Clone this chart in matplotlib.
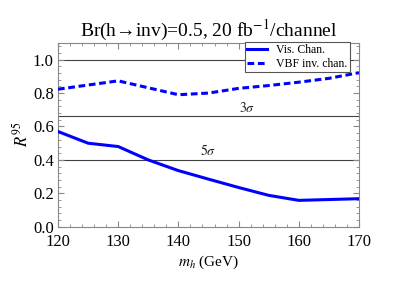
import matplotlib
matplotlib.use("Agg")
import matplotlib.pyplot as plt
from matplotlib.ticker import MultipleLocator

plt.rcParams['font.family'] = ['Liberation Serif', 'DejaVu Serif']
plt.rcParams['mathtext.fontset'] = 'stix'

mh_vis = [120, 125, 130, 135, 140, 145, 150, 155, 160, 170]
r_vis = [0.57, 0.50, 0.48, 0.40, 0.336, 0.285, 0.235, 0.188, 0.158, 0.168]
mh_vbf = [120, 130, 140, 145, 150, 155, 160, 165, 170]
r_vbf = [0.823, 0.873, 0.79, 0.80, 0.828, 0.845, 0.865, 0.888, 0.922]
sig_levels = [1.0, 0.66, 0.40]
sig_labels = ['', r'$3\sigma$', r'$5\sigma$']
sig_label_x = [None, 151.5, 145.0]

fig = plt.figure(figsize=(4.17, 2.98), dpi=100)
ax = fig.add_axes([0.139, 0.239, 0.722, 0.617])

for lvl, lab, lx in zip(sig_levels, sig_labels, sig_label_x):
    ax.axhline(lvl, color='#404040', lw=0.8, zorder=1)
    if lab:
        ax.text(lx, lvl + 0.01, lab, ha='center', va='bottom', fontsize=10, color='#222222')

ax.plot(mh_vis, r_vis, color='#0000ff', lw=2.2, label='Vis. Chan.', zorder=3)
ax.plot(mh_vbf, r_vbf, color='#0000ff', lw=2.2, ls=(0, (2.2, 1.2)), label='VBF inv. chan.', zorder=3)

ax.set_xlim(120, 170)
ax.set_ylim(0.0, 1.1)
ax.xaxis.set_major_locator(MultipleLocator(10))
ax.xaxis.set_minor_locator(MultipleLocator(2))
ax.yaxis.set_major_locator(MultipleLocator(0.2))
ax.yaxis.set_minor_locator(MultipleLocator(0.04))
ax.yaxis.set_major_formatter(matplotlib.ticker.FormatStrFormatter('%.1f'))
ax.tick_params(which='both', direction='in', top=True, right=True, color='#888888', labelsize=12)
ax.tick_params(axis='x', pad=5.5)
ax.tick_params(axis='y', pad=3)
ax.tick_params(which='major', length=4, width=0.8)
ax.tick_params(which='minor', length=2, width=0.6)
for s in ax.spines.values():
    s.set_color('#888888')
    s.set_linewidth(0.8)

ax.set_xlabel(r'$m_h$ (GeV)', fontsize=11, labelpad=2)
ax.set_ylabel(r'$R^{95}$', fontsize=12, labelpad=1)
ax.set_title('Br(h\u2192inv)=0.5, 20 fb$^{-1}$/channel', fontsize=14, pad=2)

leg = ax.legend(loc='upper right', bbox_to_anchor=(0.97, 1.005), fontsize=8.5, frameon=True,
                fancybox=False, edgecolor='#555555', framealpha=1, handlelength=1.7,
                borderpad=0.2, labelspacing=0.15, handletextpad=0.8, borderaxespad=0)
leg.get_frame().set_linewidth(0.8)

fig.savefig('out.png', dpi=100)
